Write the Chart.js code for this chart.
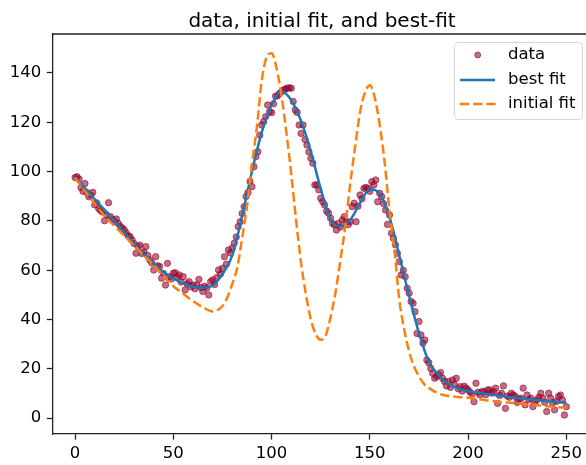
<!DOCTYPE html>
<html>
<head>
<meta charset="utf-8">
<script src="https://cdn.jsdelivr.net/npm/chart.js@4.4.1/dist/chart.umd.min.js"></script>
<style>
  html, body { margin: 0; padding: 0; background: #fff; overflow: hidden; }
  canvas { display: block; }
</style>
</head>
<body>
<canvas id="fitChart" width="586" height="465"></canvas>
<script>
const titleText = "data, initial fit, and best-fit";
const seriesNames = ["data", "best fit", "initial fit"];
const xTicks = [0, 50, 100, 150, 200, 250];
const yTicks = [0, 20, 40, 60, 80, 100, 120, 140];

// measured data, one value per x = 0, 1, 2 ... 250
const dataY = [
  97.6, 97.9, 97.0, 93.5, 92.0, 95.2, 91.5, 89.8, 90.5, 91.6,
  86.5, 87.3, 85.0, 84.2, 83.6, 80.1, 82.5, 87.4, 81.7, 80.5,
  79.7, 80.8, 79.0, 77.8, 77.2, 76.4, 75.1, 74.0, 73.6, 72.3,
  70.8, 66.9, 69.6, 70.2, 66.8, 67.5, 69.6, 66.0, 64.2, 63.0,
  60.1, 65.5, 61.8, 61.5, 56.8, 58.7, 54.0, 62.8, 57.4, 56.5,
  58.8, 59.0, 57.2, 58.1, 55.2, 57.4, 52.0, 54.5, 55.4, 53.3,
  54.0, 52.5, 54.0, 56.3, 53.0, 51.4, 53.5, 52.8, 50.0, 55.4,
  56.1, 54.2, 57.0, 60.1, 58.5, 60.8, 65.5, 62.5, 68.2, 67.0,
  69.0, 71.0, 73.5, 77.7, 79.7, 83.0, 85.8, 89.9, 91.5, 96.0,
  93.9, 102.0, 106.1, 108.1, 114.8, 118.9, 120.3, 122.3, 127.0, 124.3,
  123.9, 127.5, 130.6, 130.7, 131.7, 132.4, 133.1, 133.5, 133.8, 134.0,
  133.8, 128.4, 125.0, 124.0, 118.9, 115.5, 118.9, 113.0, 110.8, 108.0,
  105.4, 103.4, 94.6, 94.6, 92.6, 89.2, 87.8, 86.5, 84.0, 83.1,
  81.1, 79.0, 78.4, 76.3, 79.0, 77.5, 80.4, 81.7, 79.7, 78.5,
  79.7, 85.8, 87.2, 79.7, 86.0, 90.5, 89.0, 93.2, 93.6, 93.2,
  92.0, 95.9, 94.6, 96.6, 87.8, 91.2, 89.8, 87.0, 84.4, 78.6,
  82.4, 75.0, 73.0, 70.3, 66.9, 63.5, 58.1, 60.0, 57.4, 52.7,
  50.7, 47.3, 46.6, 43.2, 34.4, 39.2, 33.8, 30.4, 31.7, 23.6,
  22.5, 20.2, 18.2, 16.2, 16.9, 17.6, 18.5, 16.2, 14.9, 13.1,
  14.9, 12.5, 15.5, 13.8, 16.2, 11.9, 12.8, 11.0, 13.0, 12.2,
  11.5, 10.6, 9.8, 6.7, 14.2, 10.5, 9.4, 10.8, 10.8, 9.5,
  11.5, 11.5, 10.2, 10.8, 12.2, 6.0, 9.2, 10.1, 13.1, 4.0,
  9.0, 8.5, 10.1, 9.4, 8.8, 6.4, 7.8, 8.1, 12.2, 5.4,
  9.4, 7.5, 8.1, 4.7, 6.7, 7.4, 8.5, 10.1, 8.1, 6.5,
  2.7, 10.1, 8.1, 6.3, 3.4, 6.8, 8.8, 9.4, 7.4, 1.3,
  4.7
];

const bestX = [0, 5, 10, 15, 20, 25, 30, 35, 40, 45, 50, 55, 60, 65, 70, 75, 80, 85, 90, 95,
  100, 105, 110, 115, 120, 125, 130, 135, 140, 145, 150, 155, 160, 165, 170, 175, 180, 185,
  190, 195, 200, 205, 210, 215, 220, 225, 230, 235, 240, 245, 250];
const bestY = [97.8, 93.3, 88.8, 84.5, 80.0, 75.2, 70.8, 66.5, 62.7, 59.3, 56.7, 54.6, 53.3, 52.9,
  53.8, 58.5, 66.0, 82.0, 100.0, 116.0, 127.0, 132.5, 129.0, 120.5, 108.0, 93.0, 80.5, 77.8,
  80.4, 87.2, 92.8, 91.0, 81.5, 66.0, 49.5, 34.5, 23.0, 17.5, 14.0, 12.0, 11.0, 10.3, 9.7,
  9.2, 8.7, 8.2, 7.8, 7.4, 7.0, 6.6, 6.3];

const initX = [0, 5, 10, 15, 20, 25, 30, 35, 40, 45, 50, 55, 60, 65, 70, 75, 77.5, 80, 82.5,
  85, 87.5, 90, 92.5, 95, 97.5, 100, 102.5, 105, 107.5, 110, 112.5, 115, 117.5, 120, 122.5,
  125, 127.5, 130, 132.5, 135, 137.5, 140, 142.5, 145, 147.5, 150, 152.5, 155, 157.5, 160,
  162.5, 165, 167.5, 170, 172.5, 175, 177.5, 180, 185, 190, 195, 200, 210, 220, 230, 240, 250];
const initY = [97.5, 92.0, 87.0, 82.0, 78.0, 74.0, 70.0, 66.0, 62.0, 57.5, 53.5, 50.5, 47.5,
  45.0, 43.3, 45.5, 49.0, 54.5, 61.0, 73.0, 86.0, 103.0, 118.0, 137.0, 146.5, 148.0, 142.0,
  131.0, 116.0, 99.0, 80.0, 63.0, 50.0, 40.0, 34.0, 31.8, 33.5, 41.0, 51.0, 64.0, 78.0, 95.0,
  110.0, 124.0, 132.0, 135.0, 130.0, 119.0, 104.0, 84.0, 68.0, 48.0, 36.0, 27.0, 21.0, 17.0,
  14.0, 12.3, 10.0, 9.0, 8.6, 8.3, 7.2, 6.4, 5.6, 4.9, 4.2];

const FONT = "DejaVu Sans";
const INK = "#222";
const DOT = "rgba(150, 5, 45, 0.58)";
const BLUE = "#1f77b4";
const ORANGE = "#ff7f0e";

// title, top spine and legend box drawn by hand to sit like matplotlib's
const decorPlugin = {
    id: "decor",
    afterDraw(chart) {
        const ctx = chart.ctx;
        const area = chart.chartArea;
        ctx.save();

        ctx.strokeStyle = INK;
        ctx.lineWidth = 1.3;
        ctx.beginPath();
        ctx.moveTo(area.left, area.top);
        ctx.lineTo(area.right, area.top);
        ctx.stroke();

        ctx.fillStyle = "#000";
        ctx.font = "20px '" + FONT + "'";
        ctx.textAlign = "center";
        ctx.textBaseline = "alphabetic";
        ctx.fillText(titleText, 322, 27);

        // legend
        const bx = 454, by = 42, bw = 128, bh = 77;
        ctx.fillStyle = "rgba(255,255,255,0.8)";
        ctx.strokeStyle = "#d6d6d6";
        ctx.lineWidth = 1;
        ctx.beginPath();
        ctx.roundRect(bx + 0.5, by + 0.5, bw, bh, 4);
        ctx.fill();
        ctx.stroke();

        const rows = [55, 80, 104];
        ctx.fillStyle = DOT;
        ctx.strokeStyle = DOT;
        ctx.beginPath();
        ctx.arc(477.7, rows[0], 3, 0, Math.PI * 2);
        ctx.fill();
        ctx.stroke();

        ctx.lineWidth = 2.5;
        ctx.strokeStyle = BLUE;
        ctx.beginPath();
        ctx.moveTo(460, rows[1]);
        ctx.lineTo(495, rows[1]);
        ctx.stroke();

        ctx.strokeStyle = ORANGE;
        ctx.setLineDash([9.2, 4]);
        ctx.beginPath();
        ctx.moveTo(460, rows[2]);
        ctx.lineTo(495.6, rows[2]);
        ctx.stroke();
        ctx.setLineDash([]);

        ctx.fillStyle = "#000";
        ctx.font = "16.5px '" + FONT + "'";
        ctx.textAlign = "left";
        ctx.textBaseline = "middle";
        seriesNames.forEach((name, i) => ctx.fillText(name, 508, rows[i]));
        ctx.restore();
    }
};

const tickFont = { family: FONT, size: 16.5 };

const fitCtx = document.getElementById("fitChart").getContext("2d");
const fitChart = new Chart(fitCtx, {
    type: "scatter",
    data: {
        datasets: [
            {
                label: seriesNames[0],
                data: dataY.map((y, i) => ({ x: i, y: y })),
                showLine: false,
                pointRadius: 3.2,
                pointBackgroundColor: DOT,
                pointBorderColor: DOT,
                pointBorderWidth: 1,
                order: 3,
            },
            {
                label: seriesNames[1],
                data: bestX.map((x, i) => ({ x: x, y: bestY[i] })),
                showLine: true,
                borderColor: BLUE,
                borderWidth: 2.5,
                pointRadius: 0,
                cubicInterpolationMode: "monotone",
                order: 2,
            },
            {
                label: seriesNames[2],
                data: initX.map((x, i) => ({ x: x, y: initY[i] })),
                showLine: true,
                borderColor: ORANGE,
                borderWidth: 2.5,
                borderDash: [9.2, 4],
                pointRadius: 0,
                cubicInterpolationMode: "monotone",
                order: 1,
            },
        ],
    },
    options: {
        responsive: false,
        animation: false,
        devicePixelRatio: 1,
        layout: { autoPadding: false, padding: { top: 34, left: 0, right: 0, bottom: 0 } },
        plugins: { legend: { display: false }, title: { display: false }, tooltip: { enabled: false } },
        scales: {
            x: {
                type: "linear",
                min: -11.5,
                max: 260,
                afterBuildTicks: scale => { scale.ticks = xTicks.map(v => ({ value: v })); },
                afterFit: scale => {
                    scale.height = 31;
                    scale.paddingLeft = 0;
                    scale.paddingRight = 0;
                },
                grid: { drawOnChartArea: false, drawTicks: true, tickLength: 5.6, tickColor: INK, tickWidth: 1.3 },
                border: { display: true, color: INK, width: 1.3 },
                ticks: { font: tickFont, color: "#000", padding: 4, maxRotation: 0, autoSkip: false },
            },
            y: {
                min: -6.4,
                max: 155.8,
                afterBuildTicks: scale => { scale.ticks = yTicks.map(v => ({ value: v })); },
                afterFit: scale => {
                    scale.width = 52.5;
                    scale.paddingTop = 0;
                    scale.paddingBottom = 0;
                },
                grid: { drawOnChartArea: false, drawTicks: true, tickLength: 5.6, tickColor: INK, tickWidth: 1.3 },
                border: { display: true, color: INK, width: 1.3 },
                ticks: { font: tickFont, color: "#000", padding: 5.7, autoSkip: false },
            },
        },
    },
    plugins: [decorPlugin],
});
</script>
</body>
</html>
